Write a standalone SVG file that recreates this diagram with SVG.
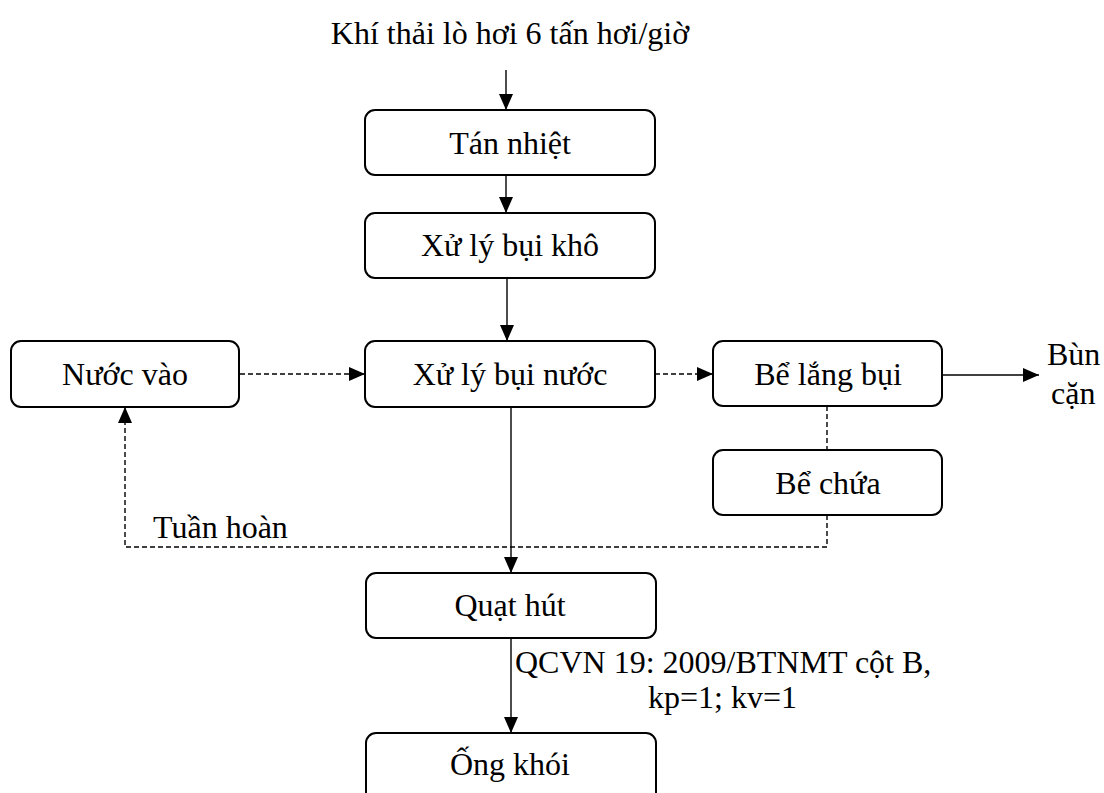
<svg xmlns="http://www.w3.org/2000/svg" width="1104" height="793" viewBox="0 0 1104 793">
  <style>
    .box { fill: #fff; stroke: #000; stroke-width: 2; }
    .lbl { font-family: "Liberation Serif", "Times New Roman", serif; font-size: 32px; fill: #000; }
    .mid { text-anchor: middle; }
    .ln { fill: none; stroke: #000; stroke-width: 1.4; }
    .dash { stroke-dasharray: 5 3; }
  </style>
  <defs>
    <marker id="arrow" markerUnits="userSpaceOnUse" markerWidth="16" markerHeight="14" refX="16" refY="7" orient="auto">
      <path d="M0,0 L16,7 L0,14 Z" fill="#000"/>
    </marker>
  </defs>

  <rect width="1104" height="793" fill="#fff"/>

  <!-- input label -->
  <text class="lbl mid" x="510" y="44">Khí thải lò hơi 6 tấn hơi/giờ</text>

  <!-- connectors -->
  <g id="connectors">
    <line class="ln" x1="506" y1="70" x2="506" y2="110" marker-end="url(#arrow)"/>
    <line class="ln" x1="506" y1="175" x2="506" y2="213" marker-end="url(#arrow)"/>
    <line class="ln" x1="507" y1="278" x2="507" y2="341" marker-end="url(#arrow)"/>
    <line class="ln dash" x1="240" y1="374" x2="365" y2="374" marker-end="url(#arrow)"/>
    <line class="ln dash" x1="655" y1="374" x2="713" y2="374" marker-end="url(#arrow)"/>
    <line class="ln" x1="942" y1="375" x2="1039" y2="375" marker-end="url(#arrow)"/>
    <line class="ln" x1="511" y1="407" x2="511" y2="573" marker-end="url(#arrow)"/>
    <line class="ln" x1="511" y1="638" x2="511" y2="733" marker-end="url(#arrow)"/>
    <line class="ln dash" x1="827" y1="406" x2="827" y2="450"/>
    <polyline class="ln dash" points="827,515 827,547 125,547 125,407" marker-end="url(#arrow)"/>
    <text class="lbl" x="153" y="538">Tuần hoàn</text>
    <text class="lbl" x="515" y="673">QCVN 19: 2009/BTNMT cột B,</text>
    <text class="lbl" x="648" y="708">kp=1; kv=1</text>
  </g>

  <g id="tan-nhiet">
    <rect class="box" x="365" y="110" width="290" height="65" rx="10"/>
    <text class="lbl mid" x="510" y="154">Tán nhiệt</text>
  </g>
  <g id="bui-kho">
    <rect class="box" x="365" y="213" width="290" height="65" rx="10"/>
    <text class="lbl mid" x="510" y="256">Xử lý bụi khô</text>
  </g>
  <g id="nuoc-vao">
    <rect class="box" x="11" y="341" width="228" height="66" rx="10"/>
    <text class="lbl mid" x="125" y="385">Nước vào</text>
  </g>
  <g id="bui-nuoc">
    <rect class="box" x="365" y="341" width="290" height="66" rx="10"/>
    <text class="lbl mid" x="510" y="385">Xử lý bụi nước</text>
  </g>
  <g id="be-lang">
    <rect class="box" x="713" y="341" width="229" height="65" rx="10"/>
    <text class="lbl mid" x="828" y="385">Bể lắng bụi</text>
  </g>
  <g id="bun-can">
    <text class="lbl" x="1047" y="365">Bùn</text>
    <text class="lbl" x="1051" y="404">cặn</text>
  </g>
  <g id="be-chua">
    <rect class="box" x="713" y="450" width="229" height="65" rx="10"/>
    <text class="lbl mid" x="828" y="494">Bể chứa</text>
  </g>
  <g id="quat-hut">
    <rect class="box" x="366" y="573" width="290" height="65" rx="10"/>
    <text class="lbl mid" x="510" y="616">Quạt hút</text>
  </g>
  <g id="ong-khoi">
    <rect class="box" x="366" y="733" width="290" height="70" rx="10"/>
    <text class="lbl mid" x="510" y="775">Ống khói</text>
  </g>
</svg>
